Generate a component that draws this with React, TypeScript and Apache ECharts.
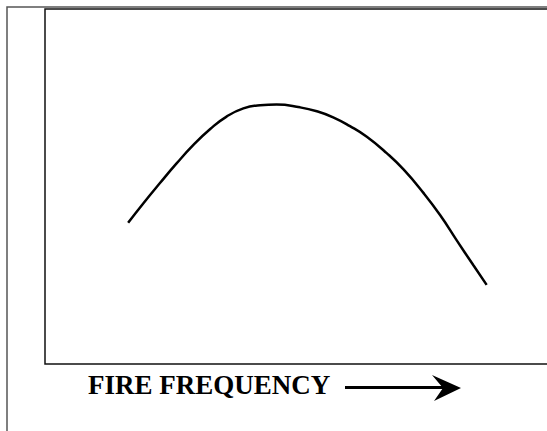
import React, { useEffect, useRef } from "react";
import * as echarts from "echarts";

// Fire frequency (x, arbitrary units) vs. response (y, arbitrary units)
const fireFrequency = [16.3, 19.3, 22.5, 25.8, 29.1, 32.4, 35.6, 38.9, 42.2, 45.4, 50.0, 53.3, 56.5, 59.8, 63.1, 67.0, 70.3, 74.2, 77.5, 80.7, 84.0, 86.6];
const response = [39.8, 45.3, 50.9, 56.5, 61.7, 66.2, 69.7, 72.0, 72.9, 73.1, 72.3, 71.2, 69.5, 67.0, 64.0, 59.4, 54.8, 48.2, 41.9, 34.9, 27.8, 22.3];
const xAxisLabel = "FIRE FREQUENCY";

export default function App() {
  const ref = useRef<HTMLDivElement>(null);
  useEffect(() => {
    if (!ref.current) return;
    const chart = echarts.init(ref.current, undefined, { renderer: "svg" });
    const data = fireFrequency.map((x, i) => [x, response[i]]);
    chart.setOption({
      animation: false,
      backgroundColor: "#fff",
      grid: {
        left: 45,
        top: 9,
        width: 510,
        height: 355,
        show: true,
        borderColor: "#111",
        borderWidth: 1.5,
        backgroundColor: "transparent",
      },
      xAxis: {
        type: "value",
        min: 0,
        max: 100,
        axisLine: { show: false },
        axisTick: { show: false },
        axisLabel: { show: false },
        splitLine: { show: false },
      },
      yAxis: {
        type: "value",
        min: 0,
        max: 100,
        axisLine: { show: false },
        axisTick: { show: false },
        axisLabel: { show: false },
        splitLine: { show: false },
      },
      series: [
        {
          type: "line",
          data,
          smooth: 0.5,
          showSymbol: false,
          lineStyle: { color: "#000", width: 2.5 },
        },
      ],
      graphic: [
        {
          type: "polyline",
          shape: { points: [[7, 431], [7, 7], [600, 7]] },
          style: { stroke: "#555", lineWidth: 1.5, fill: null },
        },
        {
          type: "text",
          x: 88,
          y: 385,
          style: {
            text: xAxisLabel,
            font: 'bold 27px "Liberation Serif"',
            fill: "#000",
            verticalAlign: "middle",
            align: "left",
          },
        },
        {
          type: "line",
          shape: { x1: 345, y1: 387.5, x2: 445, y2: 387.5 },
          style: { stroke: "#000", lineWidth: 3 },
        },
        {
          type: "polygon",
          shape: { points: [[432, 375], [461, 388], [434, 401], [443, 388]] },
          style: { fill: "#000" },
        },
      ],
    });
    return () => chart.dispose();
  }, []);
  return (
    <div
      style={{ position: "fixed", left: 0, top: 0, width: 547, height: 431, overflow: "hidden", background: "#fff" }}
    >
      <div ref={ref} style={{ width: 580, height: 431 }} />
    </div>
  );
}
